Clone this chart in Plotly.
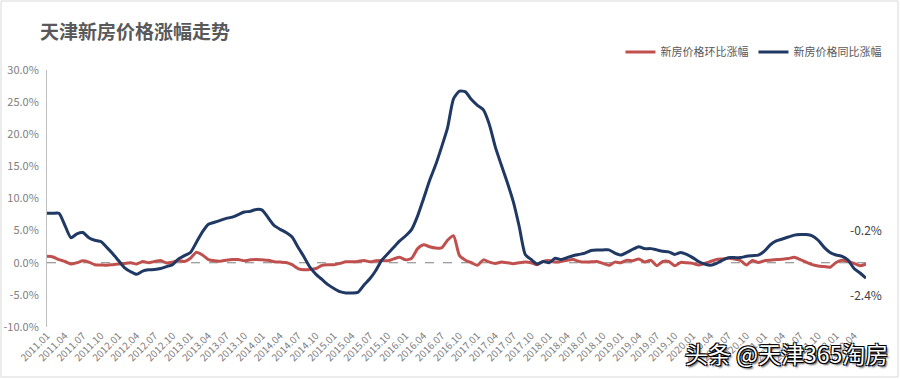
import plotly.graph_objects as go

months = [f"{y}.{m:02d}" for y in range(2011, 2023) for m in range(1, 13)][:138]

yoy = [7.7, 7.7, 7.7, 5.8, 3.9, 4.5, 4.7, 3.9, 3.5, 3.3,
       2.4, 1.4, 0.3, -0.8, -1.4, -1.8, -1.3, -1.1, -1.05, -0.9,
       -0.6, -0.3, 0.6, 1.1, 1.6, 3.2, 4.8, 6.0, 6.3, 6.6,
       6.9, 7.1, 7.5, 7.9, 8.0, 8.3, 8.2, 7.0, 5.8, 5.2,
       4.7, 4.0, 2.4, 0.9, -0.7, -1.8, -2.6, -3.4, -4.0, -4.5,
       -4.7, -4.7, -4.6, -3.5, -2.5, -1.2, 0.4, 1.4, 2.4, 3.4,
       4.2, 5.2, 7.3, 10.0, 12.8, 15.2, 18.0, 21.0, 25.5, 26.7,
       26.6, 25.4, 24.5, 23.8, 21.5, 18.0, 15.2, 12.5, 9.5, 5.6,
       1.3, 0.5, -0.2, 0.2, 0.0, 0.7, 0.5, 0.8, 1.1, 1.3,
       1.5, 1.9, 2.0, 2.0, 2.0, 1.5, 1.2, 1.6, 2.1, 2.5,
       2.2, 2.2, 2.0, 1.8, 1.7, 1.3, 1.6, 1.3, 0.8, 0.2,
       -0.2, -0.4, -0.1, 0.4, 0.8, 0.8, 0.8, 1.0, 1.1, 1.2,
       1.8, 2.8, 3.4, 3.7, 4.0, 4.3, 4.4, 4.4, 4.2, 3.5,
       2.4, 1.6, 1.2, 1.0, 0.4, -0.9, -1.6, -2.4]

mom = [1.0, 0.9, 0.5, 0.2, -0.2, 0.0, 0.3, 0.1, -0.3, -0.35,
       -0.4, -0.3, -0.2, -0.1, 0.0, -0.2, 0.2, 0.0, 0.2, 0.35,
       -0.05, 0.1, 0.35, 0.2, 0.7, 1.65, 1.2, 0.5, 0.3, 0.25,
       0.4, 0.5, 0.5, 0.3, 0.45, 0.5, 0.45, 0.4, 0.15, 0.1,
       0.05, -0.3, -0.9, -1.1, -1.05, -0.9, -0.4, -0.3, -0.3, -0.1,
       0.15, 0.15, 0.2, 0.35, 0.15, 0.3, 0.35, 0.3, 0.6, 0.85,
       0.45, 0.7, 2.2, 2.8, 2.5, 2.3, 2.3, 3.5, 4.2, 1.1,
       0.4, 0.0, -0.4, 0.45, 0.1, -0.1, 0.1, 0.0, -0.15, 0.0,
       0.1, 0.0, -0.3, 0.2, 0.35, 0.1, 0.2, 0.4, 0.5, 0.2,
       0.1, 0.15, 0.2, -0.1, -0.4, 0.1, 0.0, 0.4, 0.3, 0.6,
       0.1, 0.4, -0.45, 0.2, 0.2, -0.45, 0.05, 0.0, -0.1, -0.35,
       -0.1, 0.2, 0.5, 0.6, 0.7, 0.6, 0.35, -0.35, 0.35, 0.05,
       0.3, 0.4, 0.5, 0.55, 0.65, 0.85, 0.5, 0.1, -0.3, -0.5,
       -0.6, -0.7, 0.05, 0.4, 0.2, -0.1, -0.45, -0.2]

y_ticks = [-10, -5, 0, 5, 10, 15, 20, 25, 30]
y_labels = [f"{v:.1f}%" for v in y_ticks]
x_tickvals = list(range(0, len(months), 3))
x_ticktext = [months[i] for i in x_tickvals]

FONT = "Noto Sans CJK SC, Microsoft YaHei, sans-serif"
RED = "#C0504D"
NAVY = "#1F3864"

xi = list(range(len(months)))

fig = go.Figure()
fig.add_trace(go.Scatter(x=xi, y=mom, mode="lines", name="新房价格环比涨幅",
                         line=dict(color=RED, width=3, shape="spline", smoothing=0.6),
                         customdata=months, hovertemplate="%{customdata}: %{y:.1f}%<extra></extra>"))
fig.add_trace(go.Scatter(x=xi, y=yoy, mode="lines", name="新房价格同比涨幅",
                         line=dict(color=NAVY, width=3, shape="spline", smoothing=0.6),
                         customdata=months, hovertemplate="%{customdata}: %{y:.1f}%<extra></extra>"))

L, R, T, B = 47, 34, 70, 52
W, H = 900, 379
pw, ph = W - L - R, H - T - B

def px(x):
    return (x - L) / pw

def py(y):
    return (H - B - y) / ph

fig.update_layout(
    width=W, height=H,
    margin=dict(l=L, r=R, t=T, b=B, autoexpand=False),
    paper_bgcolor="white", plot_bgcolor="white",
    font=dict(family=FONT, color="#7f7f7f", size=11),
    title=dict(text="<b>天津新房价格涨幅走势</b>", x=40 / W, xanchor="left", xref="container",
               y=1 - 32 / H, yanchor="middle", yref="container",
               font=dict(family=FONT, size=19, color="#595959")),
    showlegend=True,
    legend=dict(orientation="h", x=1.025, xanchor="right", y=py(52), yanchor="middle",
                font=dict(family=FONT, size=11, color="#595959"),
                itemwidth=30, bgcolor="rgba(0,0,0,0)"),
    xaxis=dict(range=[0, len(months) - 1], tickmode="array", tickvals=x_tickvals, ticktext=x_ticktext,
               tickangle=-45, tickfont=dict(size=10, color="#808080"), showgrid=False, zeroline=False,
               showline=False, ticks=""),
    yaxis=dict(range=[-10, 30], tickmode="array", tickvals=y_ticks, ticktext=y_labels,
               tickfont=dict(size=11, color="#808080"), showgrid=False, zeroline=False,
               showline=True, linecolor="#bfbfbf", linewidth=1, ticks="", ticklen=0,
               ticklabelstandoff=5),
)

fig.add_shape(type="line", xref="paper", yref="y", x0=0, x1=1, y0=0, y1=0,
              line=dict(color="#7f7f7f", width=1, dash="dash"), layer="below")
fig.add_shape(type="rect", xref="paper", yref="paper", x0=px(1), x1=px(898), y0=py(1), y1=py(377),
              line=dict(color="#d9d9d9", width=1))

fig.add_annotation(x=len(months) - 1, y=5.1, text=f"{mom[-1]:.1f}%", showarrow=False,
                   xanchor="center", yanchor="middle", font=dict(family=FONT, size=12, color="#404040"))
fig.add_annotation(x=len(months) - 1, y=-5.0, text=f"{yoy[-1]:.1f}%", showarrow=False,
                   xanchor="center", yanchor="middle", font=dict(family=FONT, size=12, color="#404040"))

fig.add_annotation(xref="paper", yref="paper", x=px(786), y=py(353), text="头条 @天津365淘房",
                   showarrow=False, xanchor="center", yanchor="middle",
                   font=dict(family=FONT, size=23, color="white",
                             shadow="-1px -1px 0 #000, 1px -1px 0 #000, -1px 1px 0 #000, 1px 1px 0 #000, 2px 2px 2px #444"))

fig.write_html("out.html", config={"displayModeBar": False},
               post_script="document.body.style.margin='0';")
